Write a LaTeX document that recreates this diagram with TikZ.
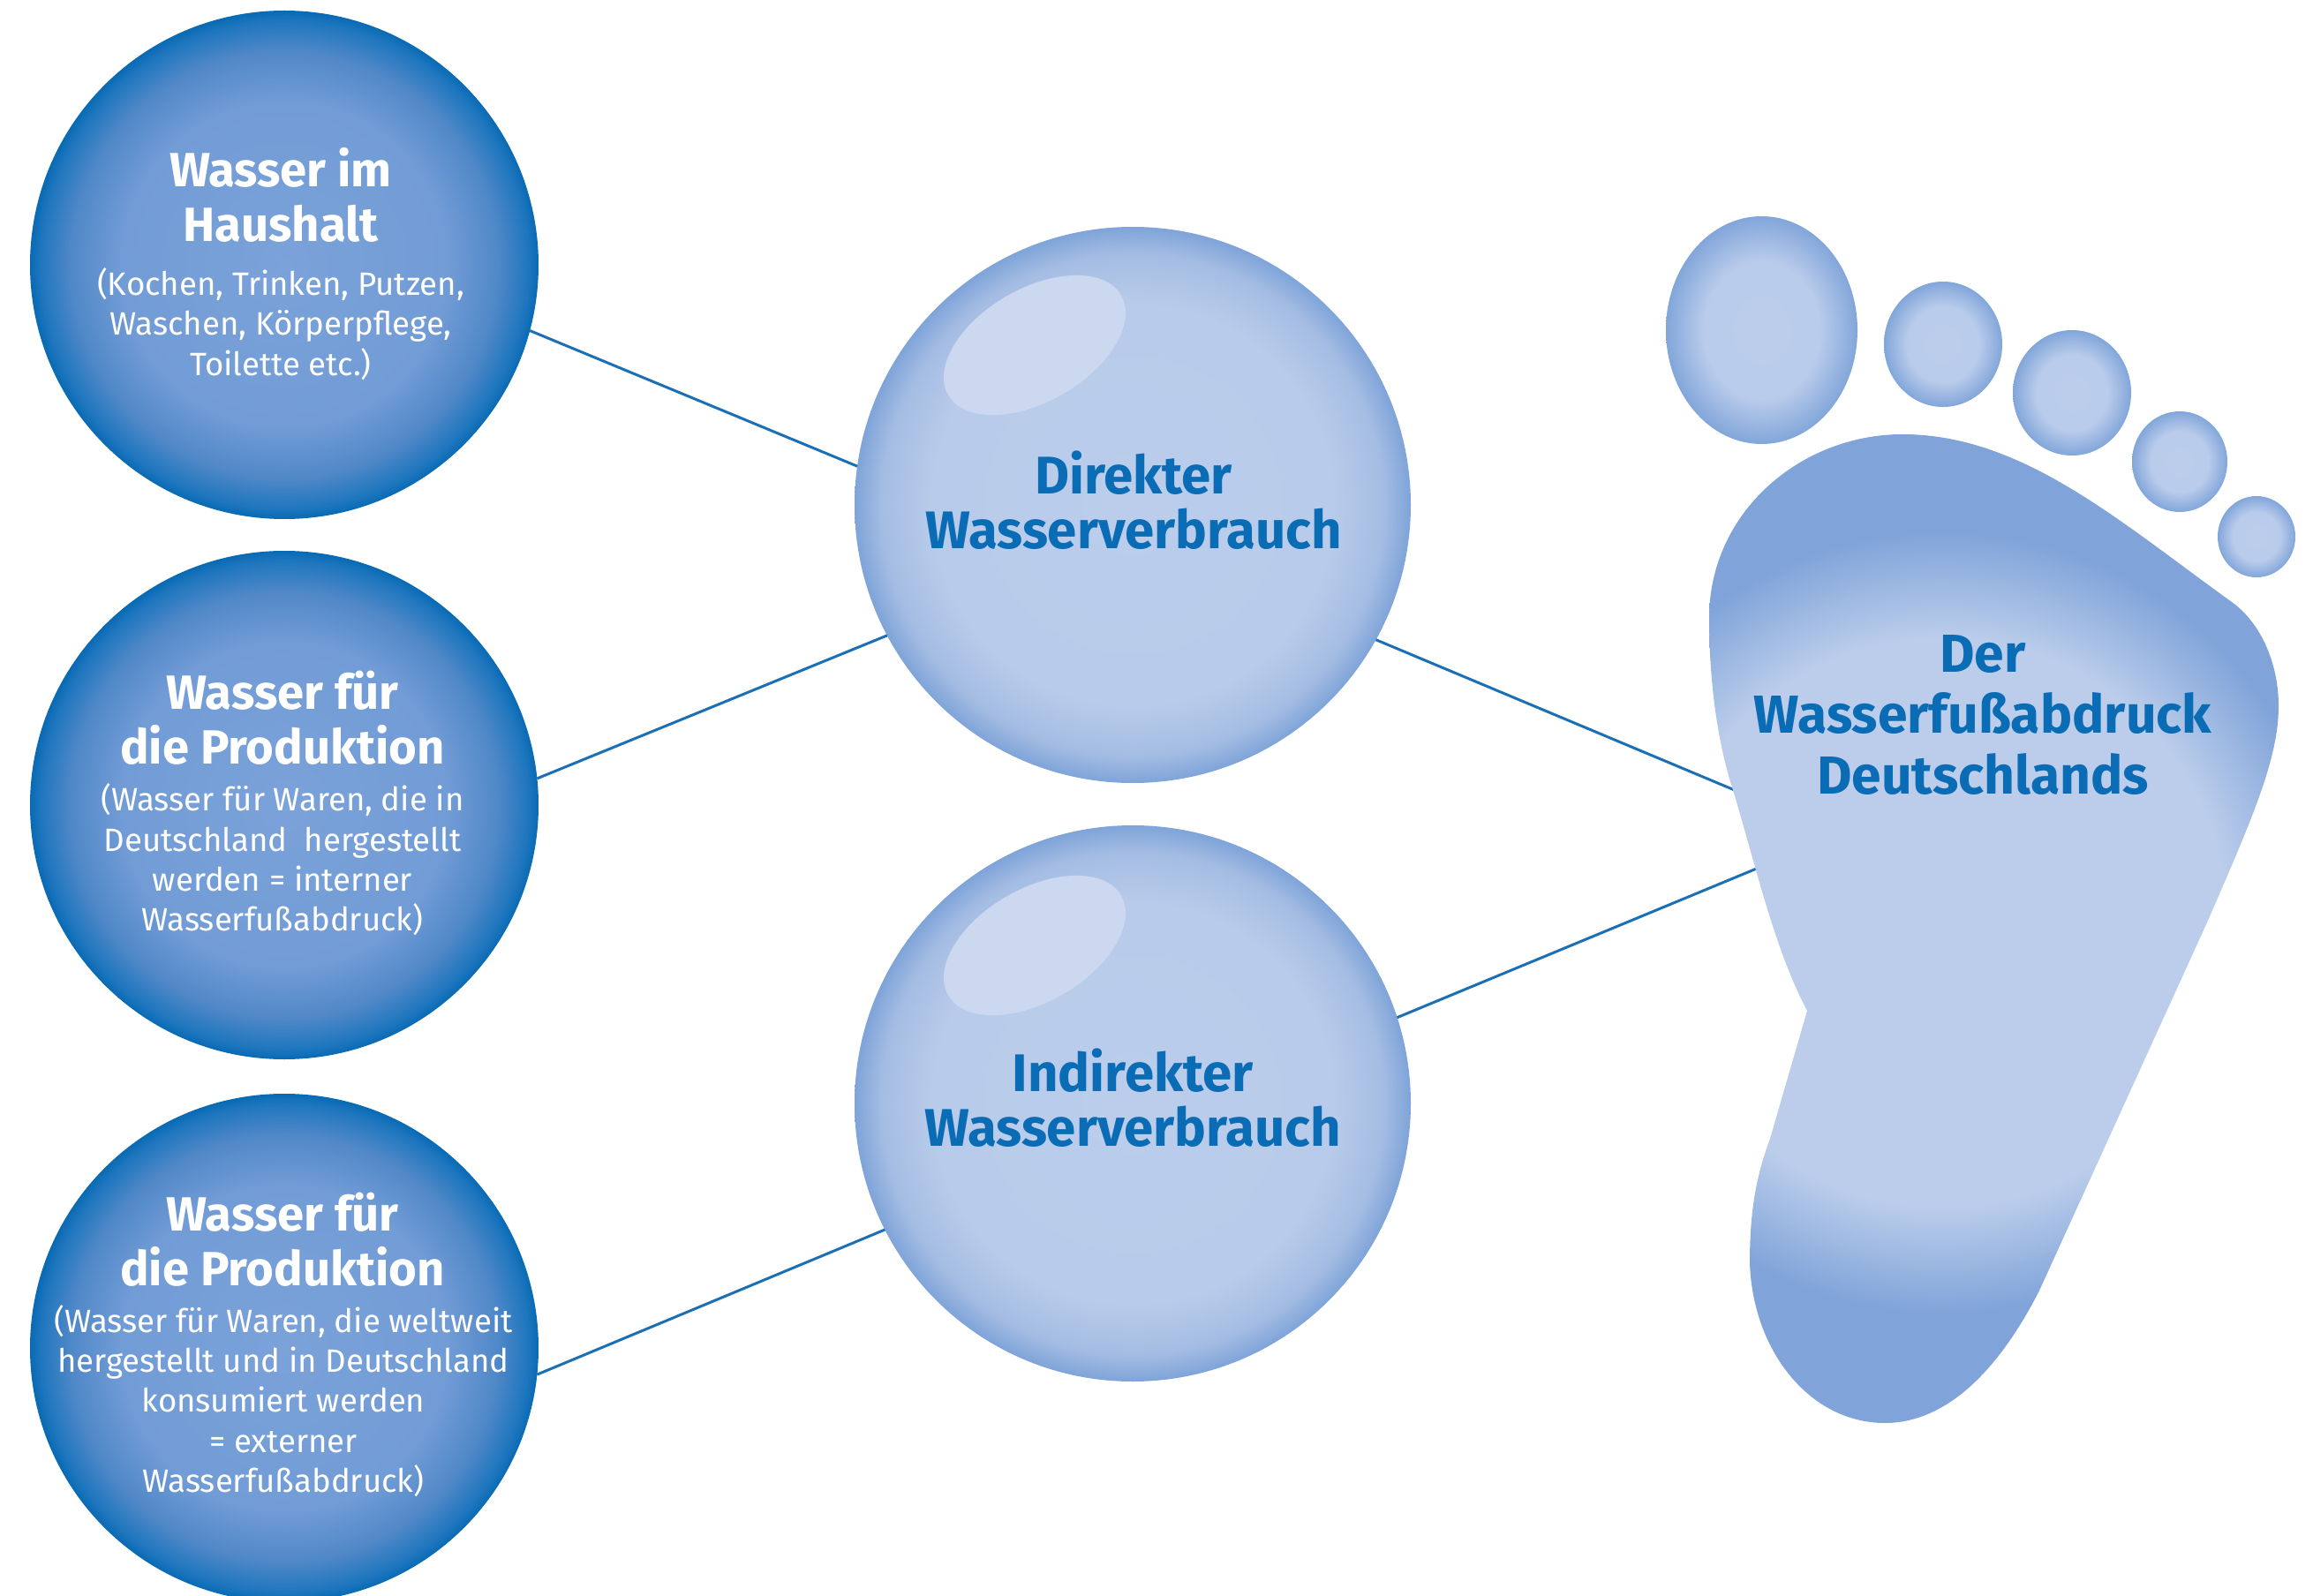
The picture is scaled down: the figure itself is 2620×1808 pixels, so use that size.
\documentclass[tikz,border=0pt]{standalone}
\usepackage{fontspec}
\setmainfont{Fira Sans}
\usetikzlibrary{shapes.geometric}
\definecolor{txtblue}{HTML}{0A6CB5}
\definecolor{linkblue}{HTML}{1A6FB5}
\definecolor{shine}{HTML}{CBD8F0}
\pgfdeclareradialshading{darkball}{\pgfpoint{0bp}{0bp}}{
 rgb(0bp)=(0.482,0.635,0.851);
 rgb(16bp)=(0.447,0.612,0.839);
 rgb(21bp)=(0.314,0.533,0.784);
 rgb(24bp)=(0.118,0.463,0.745);
 rgb(25bp)=(0.031,0.416,0.706);
 rgb(50bp)=(0.031,0.416,0.706)}
\pgfdeclareradialshading{lightball}{\pgfpoint{0bp}{0bp}}{
 rgb(0bp)=(0.733,0.804,0.922);
 rgb(18bp)=(0.722,0.796,0.918);
 rgb(22.5bp)=(0.647,0.741,0.890);
 rgb(25bp)=(0.498,0.643,0.851);
 rgb(50bp)=(0.498,0.643,0.851)}
\pgfdeclareradialshading{toeball}{\pgfpoint{0bp}{0bp}}{
 rgb(0bp)=(0.733,0.804,0.922);
 rgb(15bp)=(0.729,0.800,0.922);
 rgb(25bp)=(0.510,0.651,0.855);
 rgb(50bp)=(0.510,0.651,0.855)}
\pgfdeclareradialshading{soleshade}{\pgfpoint{0bp}{0bp}}{
 rgb(0bp)=(0.733,0.804,0.922);
 rgb(11.5bp)=(0.733,0.804,0.922);
 rgb(15.8bp)=(0.502,0.643,0.851);
 rgb(50bp)=(0.502,0.643,0.851)}
\tikzset{
 x=0.5pt,y=-0.5pt,
 darkcircle/.style={circle,draw=none,inner sep=0pt,outer sep=0pt,minimum size=288pt,shading=darkball},
 lightcircle/.style={circle,draw=none,inner sep=0pt,outer sep=0pt,minimum size=315pt,shading=lightball},
 toe/.style={ellipse,draw=none,inner sep=0pt,outer sep=0pt,shading=toeball},
 gloss/.style={ellipse,draw=none,fill=shine,inner sep=0pt,rotate=30,minimum width=113pt,minimum height=64pt},
 link/.style={draw=linkblue,line width=1.5pt},
 whitehead/.style={text=white,font=\fontsize{27.2}{31}\selectfont\bfseries,align=center},
 whitesub/.style={text=white,font=\fontsize{18.3}{22.7}\selectfont,align=center},
 bluehead/.style={text=txtblue,font=\fontsize{30}{31}\selectfont\bfseries,align=center},
 foothead/.style={text=txtblue,font=\fontsize{30.3}{34.3}\selectfont\bfseries,align=center}
}
\begin{document}
\begin{tikzpicture}
\useasboundingbox (0,0) rectangle (2620,1808);
\fill[white] (0,0) rectangle (2620,1808);
% nodes
\node[darkcircle] (c1) at (322,300) {};
\node[darkcircle] (c2) at (322,912) {};
\node[darkcircle] (c3) at (322,1527) {};
\node[lightcircle] (m1) at (1283,572) {};
\node[lightcircle] (m2) at (1283,1250) {};
\coordinate (f1) at (1967,896);
\coordinate (f2) at (1992,983);
% connectors
\draw[link] (c1.-15.4) -- (m1.172);
\draw[link] (c2.6) -- (m1.208);
\draw[link] (c3.-6) -- (m2.207);
\draw[link] (m1.-29.2) -- (f1);
\draw[link] (m2.18.3) -- (f2);
% highlights
\node[gloss] (g1) at (1172,391) {};
\node[gloss] (g2) at (1172,1071) {};
% toes
\node[toe,minimum width=108.5pt,minimum height=129pt] (t1) at (1995.5,374) {};
\node[toe,minimum width=67pt,minimum height=71pt] (t2) at (2201,390) {};
\node[toe,minimum width=67pt,minimum height=71pt] (t3) at (2347,445) {};
\node[toe,minimum width=54pt,minimum height=57pt] (t4) at (2469,523) {};
\node[toe,minimum width=44pt,minimum height=46pt] (t5) at (2556,608) {};
% sole
\begin{scope}
\clip (2047,1145)
 .. controls (2010,1075) and (1990,985) .. (1963,895)
 .. controls (1945,840) and (1936,770) .. (1936,700)
 .. controls (1936,580) and (2040,492) .. (2155,492)
 .. controls (2290,492) and (2400,590) .. (2528,682)
 .. controls (2560,705) and (2581,750) .. (2581,800)
 .. controls (2581,860) and (2550,930) .. (2500,1045)
 -- (2310,1462)
 .. controls (2260,1560) and (2200,1612) .. (2135,1612)
 .. controls (2050,1612) and (1985,1530) .. (1982,1430)
 .. controls (1982,1370) and (1990,1330) .. (2005,1290)
 -- cycle;
\shade[shading=soleshade] (2200,1045) circle[radius=350pt];
\end{scope}
% texts
\node[whitehead] (a1) at (318,221) {Wasser im\\Haushalt};
\node[whitesub] (b1) at (318,367) {(Kochen, Trinken, Putzen,\\Waschen, Körperpflege,\\Toilette etc.)};
\node[whitehead] (a2) at (320,813) {Wasser für\\die Produktion};
\node[whitesub] (b2) at (320,974) {(Wasser für Waren, die in\\Deutschland\ \ hergestellt\\werden = interner\\Wasserfußabdruck)};
\node[whitehead] (a3) at (320,1404) {Wasser für\\die Produktion};
\node[whitesub] (b3) at (321,1587) {(Wasser für Waren, die weltweit\\hergestellt und in Deutschland\\konsumiert werden\\= externer\\Wasserfußabdruck)};
\node[bluehead] (d1) at (1284,567) {Direkter\\Wasserverbrauch};
\node[bluehead] (d2) at (1283,1244) {Indirekter\\Wasserverbrauch};
\node[foothead] (d3) at (2246,810) {Der\\Wasserfußabdruck\\Deutschlands};
\end{tikzpicture}
\end{document}
